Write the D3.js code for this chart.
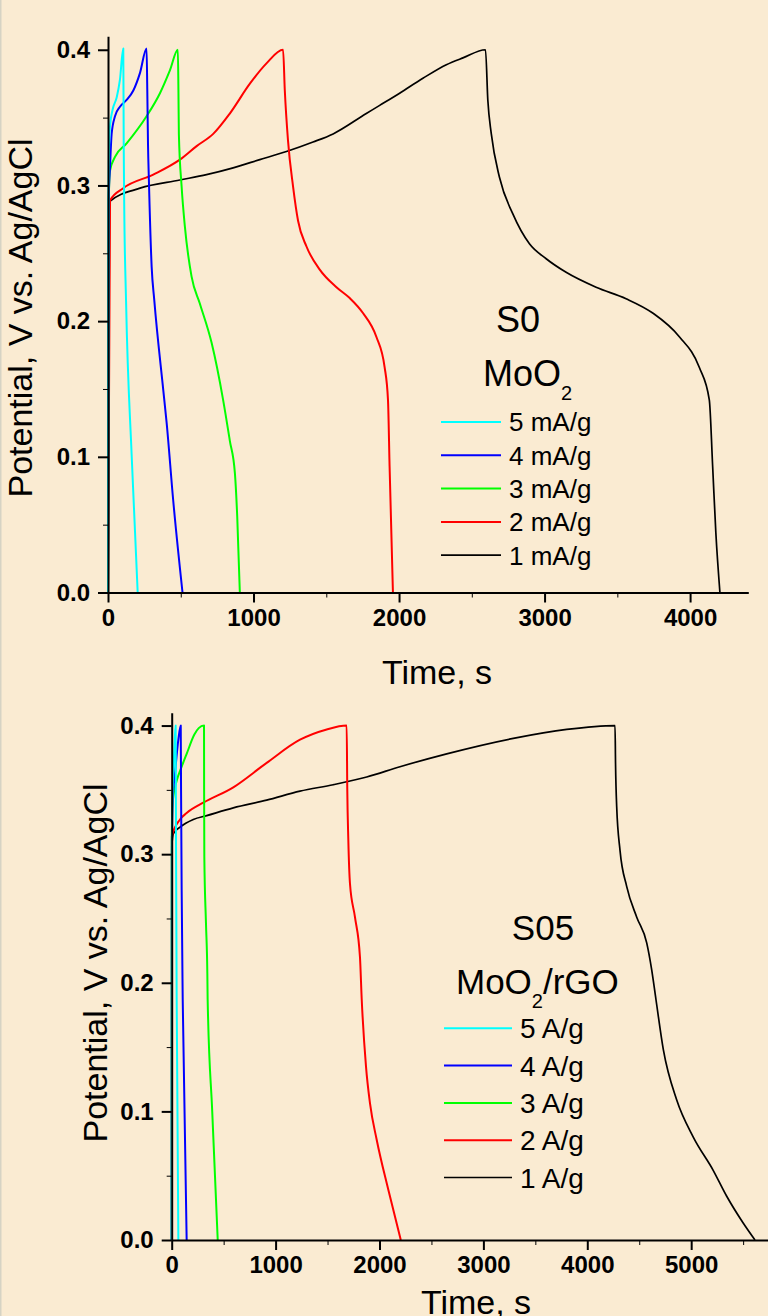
<!DOCTYPE html>
<html>
<head>
<meta charset="utf-8">
<script src="https://cdn.jsdelivr.net/npm/d3@7"></script>
<style>
  body { margin: 0; background: #faebd2; }
  svg { display: block; }
  text { font-family: "Liberation Sans", Arial, sans-serif; fill: #000; }
</style>
</head>
<body>
<script>
  var W = 768, H = 1316;

  // series colours and labels, listed as in the legend (5 -> 1)
  var colors = ["#00ffff", "#0000ff", "#00ff00", "#ff0000", "#000000"];
  var s0Labels = ["5 mA/g", "4 mA/g", "3 mA/g", "2 mA/g", "1 mA/g"];
  var s05Labels = ["5 A/g", "4 A/g", "3 A/g", "2 A/g", "1 A/g"];

  var xTicksTop = [0, 1000, 2000, 3000, 4000];
  var xTicksBottom = [0, 1000, 2000, 3000, 4000, 5000];
  var yTicks = [0.0, 0.1, 0.2, 0.3, 0.4];

  // S0 MoO2 : [time s, potential V]
  var s0_5 = [[0,0],[3,0.29],[8,0.33],[15,0.345],[32,0.356],[60,0.365],[82,0.378],[105,0.401],
    [108,0.33],[111,0.29],[124,0.215],[163,0.1],[204,0]];
  var s0_4 = [[0,0],[5,0.29],[14,0.314],[25,0.338],[48,0.351],[82,0.358],[128,0.363],[174,0.370],
    [220,0.383],[265,0.401],[270,0.37],[275,0.33],[281,0.304],[300,0.24],[318,0.2155],[380,0.149],
    [403,0.125],[448,0.068],[512,0]];
  var s0_3 = [[0,0],[5,0.289],[14,0.311],[48,0.321],[128,0.331],[265,0.351],[357,0.368],[426,0.385],
    [480,0.400],[484,0.37],[487,0.338],[506,0.299],[528,0.270],[574,0.233],[631,0.213],[712,0.184],
    [791,0.142],[837,0.112],[872,0.088],[888,0.056],[906,0]];
  var s0_2 = [[0,0],[14,0.289],[105,0.298],[311,0.308],[494,0.319],[609,0.329],[723,0.338],
    [837,0.353],[975,0.375],[1089,0.390],[1203,0.400],[1215,0.37],[1237,0.333],[1272,0.299],
    [1306,0.274],[1364,0.255],[1455,0.238],[1570,0.225],[1661,0.217],[1752,0.206],[1844,0.1885],
    [1901,0.166],[1924,0.142],[1935,0.093],[1958,0]];
  var s0_1 = [[0,0],[10,0.288],[220,0.298],[494,0.304],[677,0.308],[860,0.313],[1043,0.319],
    [1226,0.325],[1409,0.332],[1547,0.338],[1775,0.353],[1867,0.359],[2004,0.368],[2164,0.379],
    [2325,0.389],[2439,0.394],[2594,0.400],[2610,0.363],[2634,0.338],[2690,0.306],[2782,0.279],
    [2896,0.257],[3011,0.246],[3148,0.236],[3354,0.225],[3560,0.2165],[3743,0.206],[3926,0.1885],
    [4063,0.166],[4132,0.142],[4155,0.093],[4177,0.044],[4205,0]];

  // S05 MoO2/rGO : [time s, potential V]
  var s05_5 = [[0,0],[2,0.306],[8,0.345],[20,0.372],[30,0.39],[38,0.4],[42,0.3],[48,0.187],[64,0]];
  var s05_4 = [[0,0],[2,0.31],[10,0.342],[32,0.363],[64,0.389],[87,0.400],[90,0.350],[96,0.272],
    [106,0.187],[144,0]];
  var s05_3 = [[0,0],[1,0.31],[5,0.335],[16,0.345],[48,0.357],[96,0.368],[144,0.378],[218,0.393],
    [260,0.398],[311,0.400],[312,0.350],[314,0.298],[330,0.246],[343,0.207],[346,0.187],[390,0.1],[443,0]];
  var s05_2 = [[0,0],[2,0.314],[80,0.327],[144,0.332],[304,0.340],[593,0.352],[914,0.371],
    [1235,0.389],[1492,0.397],[1684,0.400],[1690,0.350],[1700,0.311],[1716,0.277],[1764,0.251],
    [1812,0.220],[1829,0.187],[1870,0.135],[1909,0.106],[1973,0.078],[2085,0.039],[2205,0]];
  var s05_1 = [[0,0],[1,0.306],[16,0.316],[80,0.321],[208,0.327],[337,0.330],[593,0.336],[914,0.342],
    [1235,0.349],[1555,0.354],[1877,0.360],[2197,0.368],[2647,0.378],[3288,0.390],[3802,0.397],
    [4267,0.400],[4272,0.37],[4283,0.337],[4315,0.303],[4379,0.275],[4476,0.251],[4572,0.231],
    [4620,0.210],[4661,0.187],[4732,0.148],[4860,0.109],[5020,0.080],[5213,0.054],[5342,0.034],
    [5502,0.013],[5614,0]];

  var svg = d3.select("body").append("svg")
    .attr("width", W)
    .attr("height", H);

  svg.append("rect").attr("width", W).attr("height", H).attr("fill", "#faebd2");
  svg.append("line").attr("x1", 0.5).attr("x2", 0.5).attr("y1", 0).attr("y2", H)
    .attr("stroke", "#d6d3c4").attr("stroke-width", 2);

  function drawPanel(p) {
    var x = d3.scaleLinear().domain([0, p.xMax]).range([p.x0, p.x1]);
    var y = d3.scaleLinear().domain([0, 0.41]).range([p.y0, p.y1]);
    var g = svg.append("g");

    // curves, 1 -> 5 so the fast ones sit on top
    var line = d3.line()
      .curve(d3.curveMonotoneX)
      .x(function(d) { return x(d[0]); })
      .y(function(d) { return y(d[1]); });
    for (var i = p.series.length - 1; i >= 0; i--) {
      g.append("path")
        .attr("d", line(p.series[i]))
        .attr("fill", "none")
        .attr("stroke", colors[i])
        .attr("stroke-width", i == 4 ? 1.7 : 2)
        .attr("stroke-linejoin", "round");
    }

    // minor ticks
    var minorX = d3.range(500, p.xMax, 1000);
    var minorY = [0.05, 0.15, 0.25, 0.35];
    g.append("g").attr("transform", "translate(0," + p.y0 + ")")
      .call(d3.axisBottom(x).tickValues(minorX).tickSize(5).tickFormat(""))
      .call(function(a) { a.select(".domain").remove(); });
    g.append("g").attr("transform", "translate(" + p.x0 + ",0)")
      .call(d3.axisLeft(y).tickValues(minorY).tickSize(5).tickFormat(""))
      .call(function(a) { a.select(".domain").remove(); });

    // major axes
    var ax = g.append("g").attr("transform", "translate(0," + p.y0 + ")")
      .call(d3.axisBottom(x).tickValues(p.xTicks).tickSize(10).tickSizeOuter(0).tickPadding(6)
        .tickFormat(d3.format("d")));
    var ay = g.append("g").attr("transform", "translate(" + p.x0 + ",0)")
      .call(d3.axisLeft(y).tickValues(yTicks).tickSize(10).tickSizeOuter(0).tickPadding(8)
        .tickFormat(d3.format(".1f")));
    [ax, ay].forEach(function(a) {
      a.selectAll("path, line").attr("stroke", "#000").attr("stroke-width", 2);
      a.selectAll("text").attr("font-size", 24).attr("font-weight", "bold")
        .attr("font-family", "'Liberation Sans', Arial, sans-serif").attr("fill", "#000");
    });

    // axis titles
    g.append("text").attr("x", p.xtX).attr("y", p.xtY)
      .attr("text-anchor", "middle").attr("font-size", 34).text("Time, s");
    g.append("text").attr("transform", "translate(" + p.ytX + "," + p.ytY + ") rotate(-90)")
      .attr("text-anchor", "middle").attr("font-size", 34).text("Potential, V vs. Ag/AgCl");

    // sample name and material
    g.append("text").attr("x", p.nameX).attr("y", p.nameY)
      .attr("text-anchor", "middle").attr("font-size", p.nameSize).text(p.name);
    var m = g.append("text").attr("x", p.matX).attr("y", p.matY).attr("font-size", p.nameSize);
    m.append("tspan").text("MoO");
    m.append("tspan").attr("font-size", 20).attr("dy", 14).text("2");
    if (p.matTail) m.append("tspan").attr("dy", -14).text(p.matTail);

    // legend
    p.labels.forEach(function(lab, i) {
      var ly = p.legY + i * p.legStep;
      g.append("line").attr("x1", p.legX0).attr("x2", p.legX1).attr("y1", ly).attr("y2", ly)
        .attr("stroke", colors[i]).attr("stroke-width", i == 4 ? 1.7 : 2);
      g.append("text").attr("x", p.legX1 + 8).attr("y", ly + p.legSize * 0.36)
        .attr("font-size", p.legSize).text(lab);
    });
  }

  drawPanel({
    xMax: 4400, x0: 108, x1: 748.3, y0: 592.5, y1: 36.2,
    xTicks: xTicksTop,
    series: [s0_5, s0_4, s0_3, s0_2, s0_1],
    xtX: 437, xtY: 684, ytX: 32, ytY: 318,
    name: "S0", nameX: 518, nameY: 332, nameSize: 36,
    matX: 483, matY: 386, matTail: "",
    labels: s0Labels, legX0: 441, legX1: 501, legY: 422, legStep: 33.3, legSize: 26
  });

  drawPanel({
    xMax: 5800, x0: 171.7, x1: 774.3, y0: 1240, y1: 712.7,
    xTicks: xTicksBottom,
    series: [s05_5, s05_4, s05_3, s05_2, s05_1],
    xtX: 476, xtY: 1314, ytX: 107, ytY: 963,
    name: "S05", nameX: 543, nameY: 940, nameSize: 35,
    matX: 456, matY: 994, matTail: "/rGO",
    labels: s05Labels, legX0: 444, legX1: 512, legY: 1028.3, legStep: 37.3, legSize: 28
  });
</script>
</body>
</html>
